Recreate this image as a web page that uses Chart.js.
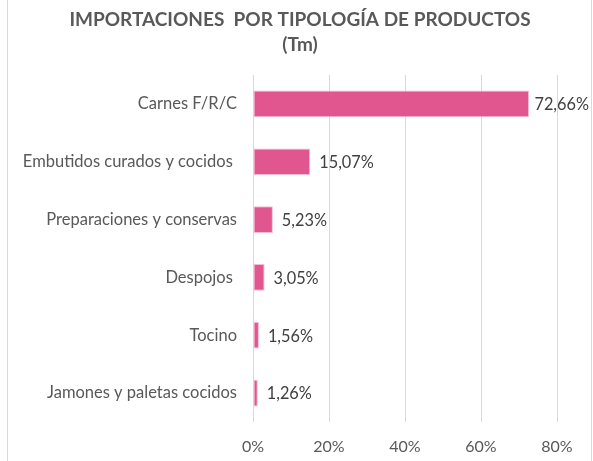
<!DOCTYPE html>
<html>
<head>
<meta charset="utf-8">
<script src="https://cdn.jsdelivr.net/npm/chart.js@4.4.1/dist/chart.umd.min.js"></script>
<style>
  html, body { margin: 0; padding: 0; background: #fff; }
  #wrap { width: 593px; height: 461px; position: relative; }
</style>
</head>
<body>
<div id="wrap"><canvas id="chart"></canvas></div>
<script>
const categories = [
  "Carnes F/R/C",
  "Embutidos curados y cocidos ",
  "Preparaciones y conservas",
  "Despojos ",
  "Tocino",
  "Jamones y paletas cocidos"
];
const shares = [72.66, 15.07, 5.23, 3.05, 1.56, 1.26];
const xTicks = [0, 20, 40, 60, 80];
const titleLines = ["IMPORTACIONES  POR TIPOLOGÍA DE PRODUCTOS", "(Tm)"];

const FONT = "Lato, 'Open Sans', sans-serif";

// etiquetas de valor a la derecha de cada barra
const valueLabels = {
  id: "valueLabels",
  afterDatasetsDraw(chart) {
    const ctx = chart.ctx;
    const meta = chart.getDatasetMeta(0);
    ctx.save();
    ctx.font = "16.3px " + FONT;
    ctx.fillStyle = "#404040";
    ctx.textBaseline = "middle";
    meta.data.forEach((bar, i) => {
      const txt = shares[i].toFixed(2).replace(".", ",") + "%";
      const w = ctx.measureText(txt).width;
      let x = bar.x + 9;
      if (x + w > 589) x = 589 - w;
      ctx.fillText(txt, x, bar.y + 1);
    });
    ctx.restore();
  }
};

// marco gris y título centrado en el marco
const frame = {
  id: "frame",
  beforeDraw(chart) {
    const ctx = chart.ctx;
    ctx.save();
    ctx.strokeStyle = "#d9d9d9";
    ctx.lineWidth = 1;
    ctx.strokeRect(7.5, -1, 584, 470);
    ctx.font = "bold 19px " + FONT;
    ctx.fillStyle = "#595959";
    ctx.textAlign = "center";
    ctx.textBaseline = "middle";
    titleLines.forEach((t, i) => ctx.fillText(t, 300, 20 + i * 25));
    ctx.restore();
  }
};

new Chart(document.getElementById("chart"), {
  type: "bar",
  data: {
    labels: categories,
    datasets: [{
      data: shares,
      backgroundColor: "#E2568F",
      borderColor: "#F4BDD3",
      borderWidth: 1,
      borderSkipped: false,
      barPercentage: 0.46,
      categoryPercentage: 1
    }]
  },
  options: {
    indexAxis: "y",
    responsive: true,
    maintainAspectRatio: false,
    animation: false,
    layout: { padding: { left: 8, right: 36, top: 75, bottom: 0 } },
    plugins: {
      legend: { display: false },
      tooltip: { enabled: false },
      title: { display: false }
    },
    scales: {
      x: {
        min: 0,
        max: 80,
        afterBuildTicks: (axis) => { axis.ticks = xTicks.map(v => ({ value: v })); },
        afterFit: (axis) => { axis.height = 39; },
        grid: { color: "#d9d9d9", drawTicks: false },
        border: { display: false },
        ticks: {
          color: "#595959",
          font: { family: FONT, size: 16 },
          padding: 15,
          callback: (v) => v + "%"
        }
      },
      y: {
        afterFit: (axis) => { axis.width = 245; },
        grid: { display: false, drawTicks: false },
        border: { display: false },
        ticks: {
          color: "#595959",
          font: { family: FONT, size: 16.5 },
          padding: 16
        }
      }
    }
  },
  plugins: [frame, valueLabels]
});
</script>
</body>
</html>
